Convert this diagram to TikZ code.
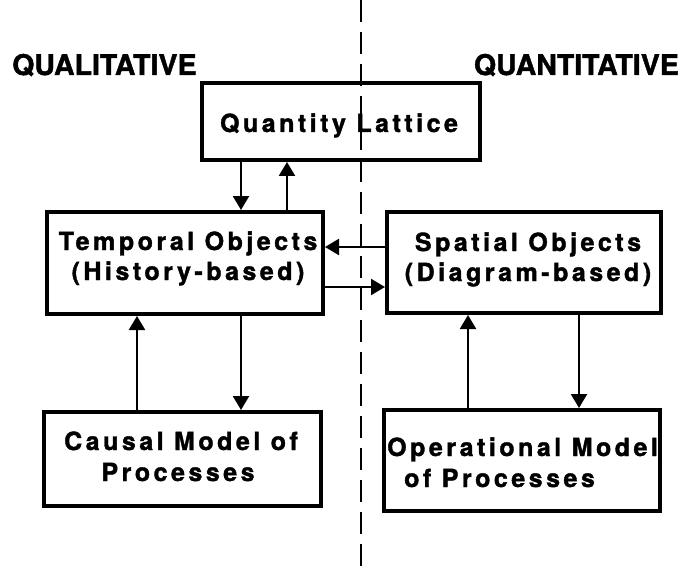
\documentclass[tikz,border=0pt]{standalone}
\usepackage{fontspec}
\setmainfont{TeX Gyre Heros}
\newfontfamily\boxfont[LetterSpace=14,BoldFeatures={FakeBold=1.5}]{TeX Gyre Heros}
\newfontfamily\sidefont[BoldFeatures={FakeBold=1.5}]{TeX Gyre Heros}
\usetikzlibrary{arrows.meta}
\tikzset{
  box/.style={draw, line width=4pt, inner sep=0pt},
  boxtext/.style={font=\boxfont\bfseries\fontsize{25}{30}\selectfont, inner sep=0pt, anchor=base},
  side/.style={font=\sidefont\bfseries\fontsize{28.5}{30}\selectfont, inner sep=0pt},
  arr/.style={line width=2.2pt, -{Triangle[width=16pt,length=14pt]}},
  divider/.style={line width=2.4pt, dash pattern=on 22pt off 10pt}
}
\begin{document}
\begin{tikzpicture}[x=1pt,y=-1pt]
\useasboundingbox (0,0) rectangle (683,567);
% divider
\coordinate (dtop) at (361,0);
\coordinate (dbot) at (361,567);
\draw[divider] (dtop) -- (dbot);
% side labels
\node[side, anchor=base west] (qual) at (12,75) {QUALITATIVE};
\node[side, anchor=base east] (quan) at (679,75) {QUANTITATIVE};
% boxes
\node[box, minimum width=278pt, minimum height=77pt] (ql) at (341,121.5) {};
\node[box, minimum width=276pt, minimum height=102pt] (tem) at (185,263) {};
\node[box, minimum width=274pt, minimum height=101pt] (spa) at (524,262.5) {};
\node[box, minimum width=277pt, minimum height=94pt] (cau) at (182.5,459) {};
\node[box, minimum width=276pt, minimum height=101pt] (ope) at (522,460.5) {};
% texts
\node[boxtext] (qlt) at (339,132) {Quantity Lattice};
\node[boxtext] (tem1) at (188,250) {Temporal Objects};
\node[boxtext] (tem2) at (188,280) {(History-based)};
\node[boxtext] (spa1) at (528,251) {Spatial Objects};
\node[boxtext] (spa2) at (528,281) {(Diagram-based)};
\node[boxtext] (cau1) at (181,450) {Causal Model of};
\node[boxtext] (cau2) at (178,481) {Processes};
\node[boxtext, anchor=base west] (ope1) at (387,456) {Operational Model};
\node[boxtext, anchor=base west] (ope2) at (404,487) {of Processes};
% arrows QL <-> Temporal
\draw[arr] ([xshift=-100pt]ql.south) -- ([xshift=-100pt]ql.south |- tem.north);
\draw[arr] ([xshift=-54pt]ql.south |- tem.north) -- ([xshift=-54pt]ql.south);
% Temporal <-> Spatial
\draw[arr] ([yshift=15.5pt]spa.west) -- ([yshift=15.5pt]spa.west -| tem.east);
\draw[arr] ([yshift=-24pt]tem.east) -- ([yshift=-24pt]tem.east -| spa.west);
% Temporal <-> Causal
\draw[arr] ([xshift=-45.5pt]cau.north) -- ([xshift=-45.5pt]cau.north |- tem.south);
\draw[arr] ([xshift=56pt]tem.south) -- ([xshift=56pt]tem.south |- cau.north);
% Spatial <-> Operational
\draw[arr] ([xshift=-54pt]ope.north) -- ([xshift=-54pt]ope.north |- spa.south);
\draw[arr] ([xshift=55pt]spa.south) -- ([xshift=55pt]spa.south |- ope.north);
\end{tikzpicture}
\end{document}
